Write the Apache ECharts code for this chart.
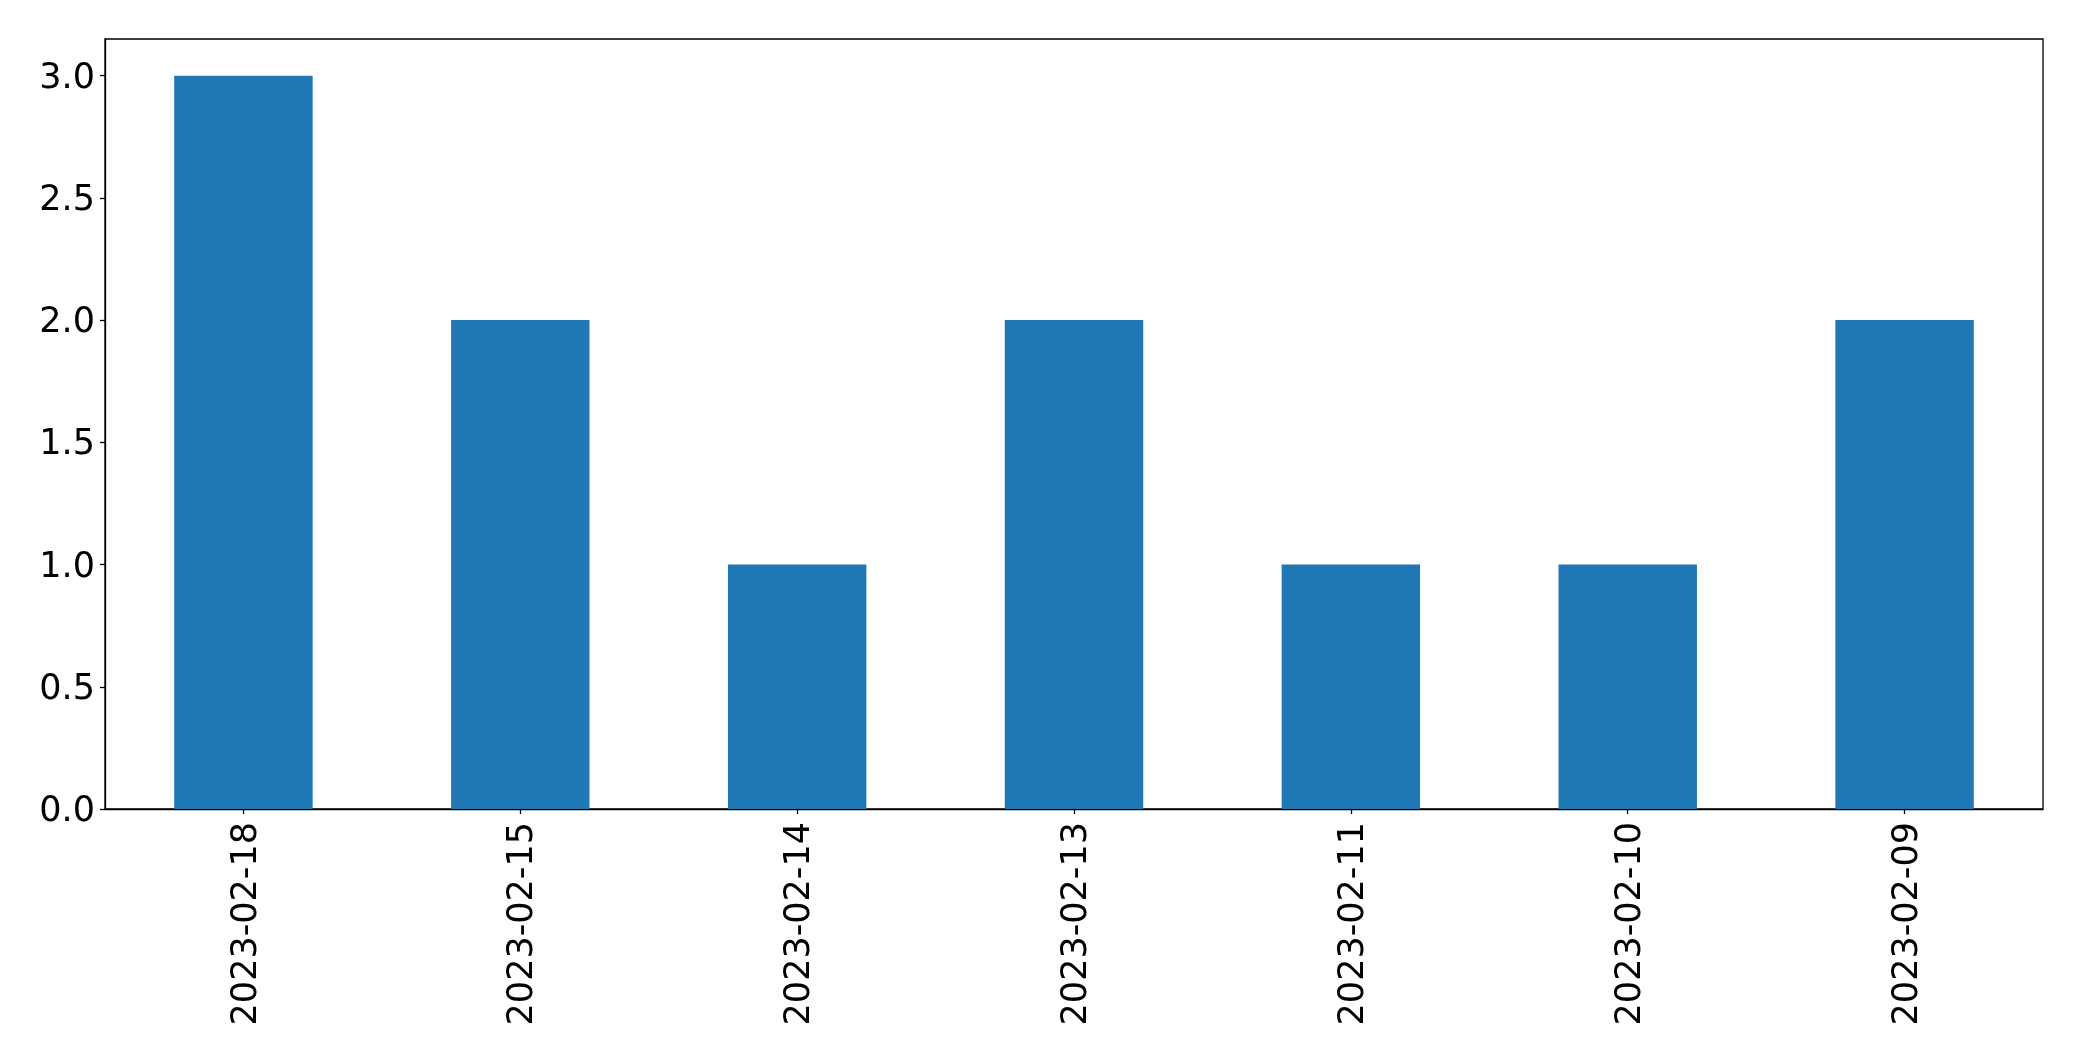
<!DOCTYPE html>
<html>
<head>
<meta charset="utf-8">
<script src="https://cdn.jsdelivr.net/npm/echarts@6/dist/echarts.min.js"></script>
<style>
html,body{margin:0;padding:0;background:#fff;}
#chart{width:2082px;height:1061px;}
</style>
</head>
<body>
<div id="chart"></div>
<script>
const categories = ["2023-02-18","2023-02-15","2023-02-14","2023-02-13","2023-02-11","2023-02-10","2023-02-09"];
const values = [3, 2, 1, 2, 1, 1, 2];
const yTicks = [0, 0.5, 1.0, 1.5, 2.0, 2.5, 3.0];

const chart = echarts.init(document.getElementById('chart'), null, {renderer: 'canvas'});
const font = 'DejaVu Sans';
const rich = {t: {fontSize: 35, fontFamily: font, color: '#000', padding: [6, 0, 0, 0]}};
chart.setOption({
  animation: false,
  backgroundColor: '#ffffff',
  grid: {
    left: 105, right: 39, top: 39, bottom: 252,
    show: true, borderColor: '#000000', borderWidth: 1.3, backgroundColor: 'transparent'
  },
  xAxis: {
    type: 'category',
    data: categories,
    boundaryGap: true,
    axisLine: {show: true, lineStyle: {color: '#000', width: 1.3}},
    axisTick: {show: true, alignWithLabel: true, length: 5, lineStyle: {color: '#000', width: 1.3}},
    axisLabel: {rotate: 90, fontSize: 35, fontFamily: font, color: '#000', margin: 13, interval: 0,
      formatter: v => '{t|' + v + '}', rich: rich},
    splitLine: {show: false}
  },
  yAxis: {
    type: 'value',
    min: 0,
    max: 3.15,
    interval: 0.5,
    axisLine: {show: true, lineStyle: {color: '#000', width: 1.3}},
    axisTick: {show: true, length: 5, lineStyle: {color: '#000', width: 1.3}, customValues: yTicks},
    axisLabel: {fontSize: 35, fontFamily: font, color: '#000', margin: 10,
      customValues: yTicks,
      formatter: v => '{t|' + v.toFixed(1) + '}', rich: rich},
    splitLine: {show: false}
  },
  series: [{
    type: 'bar',
    data: values,
    barWidth: '50%',
    itemStyle: {color: '#1f77b4'}
  }]
});
</script>
</body>
</html>
